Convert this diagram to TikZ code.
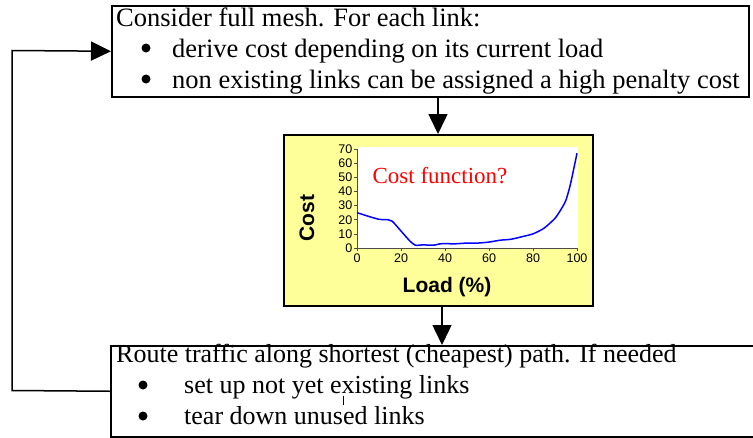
\documentclass[tikz,border=0pt]{standalone}
\usepackage{fontspec}
\setmainfont{Liberation Serif}
\setsansfont{Liberation Sans}
\usetikzlibrary{arrows.meta}
\definecolor{plotyellow}{RGB}{255,255,153}
\definecolor{curveblue}{RGB}{0,0,255}
\begin{document}
\begin{tikzpicture}[x=1pt,y=-1pt,
  box/.style={draw, line width=1.5pt, rectangle, inner sep=0pt, anchor=north west},
  txt/.style={anchor=base west, inner sep=0pt, font=\fontsize{26.5}{31}\selectfont},
  btxt/.style={anchor=base west, inner sep=0pt, font=\fontsize{26}{31}\selectfont},
  bul/.style={circle, fill=black, inner sep=0pt, minimum size=9pt},
  arr/.style={line width=1.5pt, -{Triangle[length=20pt,width=19pt]}},
  tickl/.style={inner sep=0pt, font=\sffamily\fontsize{12.5}{13}\selectfont},
  axlab/.style={inner sep=0pt, font=\sffamily\bfseries\fontsize{21}{24}\selectfont}
]
\useasboundingbox (0,0) rectangle (753,437);

% boxes
\node[box, minimum width=637pt, minimum height=91pt] (top) at (111,5) {};
\node[box, minimum width=660pt, minimum height=91pt] (bot) at (110,345) {};
\node[box, fill=plotyellow, minimum width=309pt, minimum height=171pt] (plot) at (283,134) {};

% top box text
\node[txt] (t1) at (116,26) {Consider full mesh. For each link:};
\node[bul] (t2b) at (146,48) {};
\node[txt] (t2) at (172,57) {derive cost depending on its current load};
\node[bul] (t3b) at (146,79) {};
\node[txt] (t3) at (172,88) {non existing links can be assigned a high penalty cost};

% bottom box text
\node[btxt] (b1) at (116,362) {Route traffic along shortest (cheapest) path. If needed};
\node[bul] (b2b) at (143,385) {};
\node[btxt] (b2) at (184,393) {set up not yet existing links};
\node[bul] (b3b) at (143,416) {};
\node[btxt] (b3) at (184,424) {tear down unused links};
\draw[line width=0.5pt] (343,396) -- (343,405);

% plot
\fill[white] (357,147) rectangle (578,248);
\begin{scope}[shift={(357pt,-248pt)}, x=2.2pt, y=1.414pt]
  \draw[line width=0.6pt, black!70] (0,0) -- (0,70);
  \draw[line width=0.6pt, black!70] (0,0) -- (100,0);
  \foreach \v in {0,10,...,70} {
    \draw[line width=0.6pt, black!70] (0,\v) -- ++(-3pt,0);
    \node[tickl, anchor=east] (yl\v) at ([xshift=-4.5pt]0,\v) {\v};
  }
  \foreach \v in {0,20,...,100} {
    \draw[line width=0.6pt, black!70] (\v,0) -- ++(0,-3pt);
    \node[tickl, anchor=north] (xl\v) at ([yshift=-6pt]\v,0) {\v};
  }
  \draw[curveblue, line width=1.5pt, line join=round, smooth, tension=0.4]
    plot coordinates {(0,25) (5,22.5) (10,20.3) (14,20) (16,19) (20,12) (24,5) (26.5,2) (30,2.2) (35,2) (38,3) (45,3) (50,3.5) (55,3.5) (60,4.2) (65,5.5) (70,6.2) (75,8) (80,10) (85,14) (90,21) (93,28) (95,34) (97,45) (100,67)};
\end{scope}
\node[axlab, rotate=90] (ylab) at (307,218) {Cost};
\node[axlab] (xlab) at (447,287) {Load (\%)};
\node[inner sep=0pt, anchor=base, text=red, font=\fontsize{23}{27}\selectfont] (cf) at (440,183) {Cost function?};

% connectors
\coordinate (cb) at (12,390.5);
\coordinate (ct) at (12,50.5);
\draw[arr] (bot.west) -- (cb) -- (ct) -- (top.west);
\coordinate (a1) at (438,0);
\coordinate (a2) at (442,0);
\draw[arr] (top.south -| a1) -- (plot.north -| a1);
\draw[arr] (plot.south -| a2) -- (bot.north -| a2);
\end{tikzpicture}
\end{document}
